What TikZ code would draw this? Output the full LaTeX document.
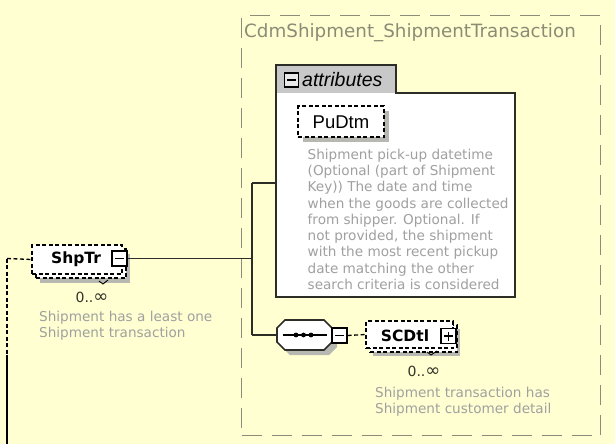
\documentclass[tikz,border=0pt]{standalone}
\usepackage{fontspec}
\setmainfont{DejaVu Sans}
\newfontfamily\arialf{Liberation Sans}
\definecolor{bgc}{RGB}{255,255,210}
\definecolor{grpc}{RGB}{140,140,122}
\definecolor{titlec}{RGB}{140,140,118}
\definecolor{linec}{RGB}{45,45,40}
\definecolor{hdrc}{RGB}{200,200,200}
\definecolor{shadowc}{RGB}{184,184,178}
\definecolor{descc}{RGB}{160,160,160}
\definecolor{multc}{RGB}{50,50,40}
\newcommand{\infsym}{{\fontsize{18}{16}\selectfont ∞}}
\tikzset{
  dbox/.style={draw=black, dash pattern=on 4pt off 2.5pt, line width=1.3pt, fill=white, inner sep=0pt},
  shadowbox/.style={fill=shadowc, draw=none, inner sep=0pt},
  pmbox/.style={draw=black, line width=1.2pt, fill=white, minimum size=15pt, inner sep=0pt},
  conn/.style={draw=linec, line width=1.8pt},
  desc/.style={text=descc, font=\fontsize{13.6}{16.3}\selectfont, align=left, inner sep=0pt, anchor=north west},
  mult/.style={text=multc, font=\fontsize{14}{16}\selectfont, inner sep=0pt},
  elabel/.style={font=\bfseries\fontsize{15.5}{18}\selectfont, inner sep=0pt},
  grpbox/.style={draw=grpc, line width=1.1pt, dash pattern=on 20pt off 10pt, inner sep=0pt},
}
\begin{document}
\begin{tikzpicture}[x=1pt,y=-1pt]
\useasboundingbox (0,0) rectangle (615,444);
\fill[bgc] (0,0) rectangle (615,444);

% outer group
\node[grpbox, minimum width=359pt, minimum height=420pt, anchor=north west] (grp) at (241,15) {};
\node[anchor=west, text=titlec, inner sep=0pt, font=\fontsize{18.3}{20}\selectfont] (title) at (244,33) {CdmShipment\_ShipmentTransaction};

% attributes compartment
\fill[hdrc] (276,65) rectangle (396,93);
\fill[white] (276,93) rectangle (515,297);
\draw[linec, line width=1.8pt] (276,65) -- (396,65) -- (396,93) -- (515,93) -- (515,297) -- (276,297) -- cycle;
\node[draw=none, minimum width=239pt, minimum height=204pt, anchor=north west, inner sep=0pt] (attr) at (276,93) {};
\node[pmbox, minimum size=14pt, fill=hdrc!40] (mAttr) at (291.5,80) {};
\draw[black, line width=1.1pt] ([xshift=-4.5pt]mAttr.center) -- ([xshift=4.5pt]mAttr.center);
\node[anchor=west, inner sep=0pt, font=\arialf\itshape\fontsize{19.5}{22}\selectfont] (attrlbl) at (302,80) {attributes};

% PuDtm
\node[shadowbox, minimum width=86pt, minimum height=31pt] (pushadow) at (346,126.5) {};
\node[dbox, minimum width=86pt, minimum height=31pt] (pubox) at (341,121.5) {};
\node[inner sep=0pt, font=\arialf\fontsize{18.5}{20}\selectfont] (putxt) at (341,122) {PuDtm};
\node[desc] (pudesc) at (307.5,147.5) {\strut Shipment pick-up datetime\\(Optional (part of Shipment\\Key)) The date and time\\when the goods are collected\\from shipper. Optional. If\\not provided, the shipment\\with the most recent pickup\\date matching the other\\search criteria is considered};

% ShpTr
\node[shadowbox, minimum width=90pt, minimum height=29pt] (shpshadow) at (85,268) {};
\node[dbox, minimum width=90pt, minimum height=29pt] (shpback) at (81,263.5) {};
\node[dbox, minimum width=90pt, minimum height=29pt] (shp) at (77,259.5) {};
\node[elabel] (shptxt) at (76,259.5) {ShpTr};
\node[pmbox] (mShp) at (119.5,258.5) {};
\draw[black, line width=1.1pt] ([xshift=-4.5pt]mShp.center) -- ([xshift=4.5pt]mShp.center);
\draw[black, line width=0.9pt] (99,281) -- (103,284) -- (108,280);
\node[mult] (shpmult) at (92,297.5) {0..\infsym};
\node[desc] (shpdesc) at (39,309.5) {\strut Shipment has a least one\\Shipment transaction};

% left incoming line
\coordinate (lin) at (7,258.5);
\coordinate (lmid) at (7,355);
\coordinate (lbot) at (7,444);
\draw[black, line width=1.3pt, dash pattern=on 4pt off 2.5pt] (lin) -- (shp.west);
\draw[black, line width=1.3pt, dash pattern=on 4pt off 2.5pt] (lin) -- (lmid);
\draw[black, line width=1.8pt] (lmid) -- (lbot);

% connectors
\coordinate (jtop) at (252,183);
\coordinate (jmid) at (252,258.5);
\coordinate (jbot) at (252,335);
\draw[conn] (mShp.east) -- (jmid);
\draw[conn] (jtop) -- (jbot);
\draw[conn] (jtop) -- (jtop -| attr.west);

% sequence compositor
\node[draw=none, minimum width=55pt, minimum height=30pt, inner sep=0pt] (seq) at (304.5,335) {};
\fill[shadowc] (290,325) -- (329,325) -- (337,333) -- (337,347) -- (329,355) -- (290,355) -- (282,347) -- (282,333) -- cycle;
\filldraw[fill=white, draw=linec, line width=1.6pt] (285,320) -- (324,320) -- (332,328) -- (332,342) -- (324,350) -- (285,350) -- (277,342) -- (277,328) -- cycle;
\draw[conn] (jbot) -- (seq.west);
\draw[black, line width=1.4pt] (283,335) -- (327,335);
\fill[black] (296,335) circle (2.4) (303.5,335) circle (2.4) (311,335) circle (2.4);
\node[pmbox] (mSeq) at (339.5,335.5) {};
\draw[black, line width=1.1pt] ([xshift=-4.5pt]mSeq.center) -- ([xshift=4.5pt]mSeq.center);

% SCDtl
\node[shadowbox, minimum width=87pt, minimum height=27pt] (scshadow) at (416.5,342.5) {};
\node[dbox, minimum width=87pt, minimum height=27pt] (scback) at (413.5,338.5) {};
\node[dbox, minimum width=87pt, minimum height=27pt] (sc) at (409.5,334.5) {};
\draw[black, line width=1.3pt, dash pattern=on 4pt off 2.5pt] (mSeq.east) -- (sc.west);
\node[elabel] (sctxt) at (405,336) {SCDtl};
\node[pmbox] (pSc) at (448.5,336) {};
\draw[black, line width=1.1pt] ([xshift=-4.5pt]pSc.center) -- ([xshift=4.5pt]pSc.center);
\draw[black, line width=1.1pt] ([yshift=-4.5pt]pSc.center) -- ([yshift=4.5pt]pSc.center);
\draw[black, line width=0.9pt] (427,352) -- (431,355) -- (437,351);
\node[mult] (scmult) at (424,371) {0..\infsym};
\node[desc] (scdesc) at (375,385.5) {\strut Shipment transaction has\\Shipment customer detail};
\end{tikzpicture}
\end{document}
